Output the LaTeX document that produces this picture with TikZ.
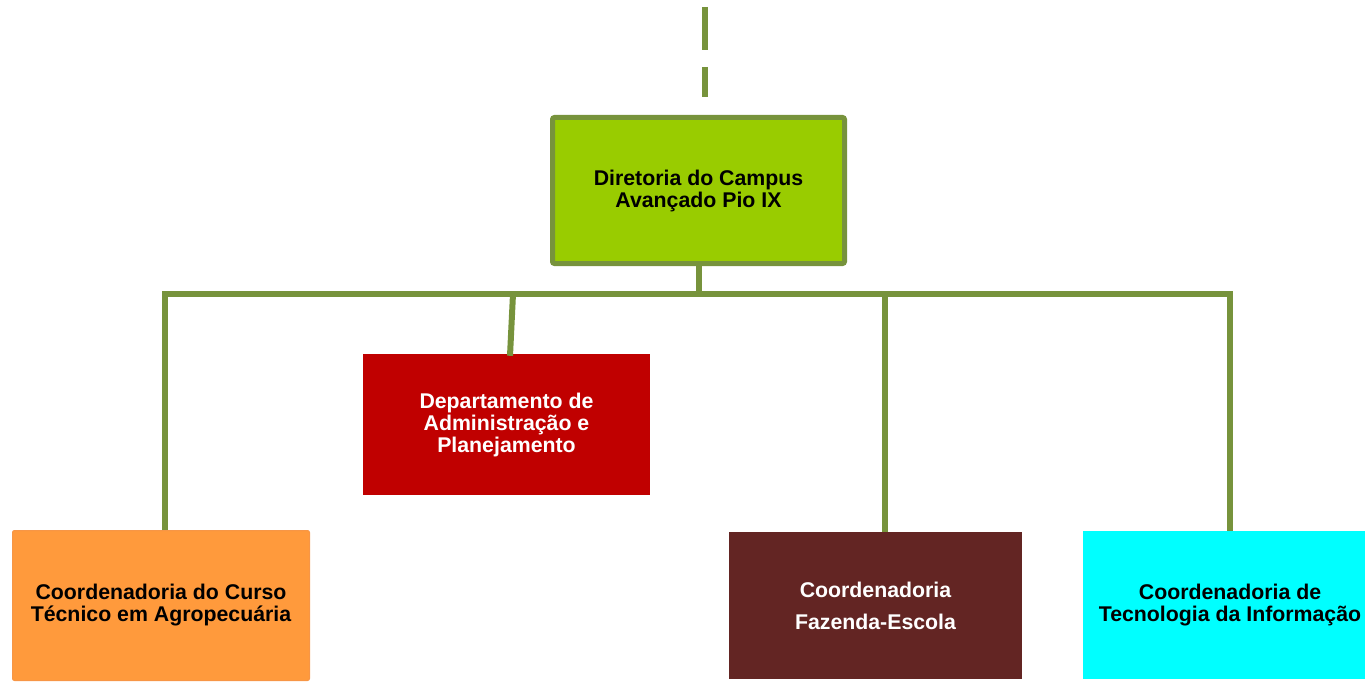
\documentclass[tikz,border=0pt]{standalone}
\usepackage{fontspec}
\setmainfont{Liberation Sans}
\definecolor{linegreen}{HTML}{77933C}
\definecolor{dirfill}{HTML}{99CC00}
\definecolor{orfill}{HTML}{FF9A3C}
\definecolor{ordraw}{HTML}{F79646}
\definecolor{redfill}{HTML}{C00000}
\definecolor{brownfill}{HTML}{632523}
\definecolor{cyanfill}{HTML}{00FFFF}
\tikzset{
  unit/.style={rectangle, inner sep=0pt, align=center, font=\bfseries\fontsize{21.3}{22}\selectfont},
  conn/.style={draw=linegreen, line width=6pt},
}
\begin{document}
\begin{tikzpicture}[x=1pt,y=-1pt]
\useasboundingbox (0,0) rectangle (1365,682);
% nodes
\node[unit, draw=linegreen, line width=5pt, fill=dirfill, rounded corners=2pt,
      minimum width=292pt, minimum height=146pt] (dir) at (698.5,190.5)
  {Diretoria do Campus\\Avançado Pio IX};
\node[unit, fill=orfill, draw=ordraw, line width=1pt, rounded corners=2pt,
      minimum width=297pt, minimum height=150pt] (o) at (161,605.5)
  {Coordenadoria do Curso\\Técnico em Agropecuária};
\node[unit, fill=redfill, text=white, minimum width=287pt, minimum height=141pt] (d) at (506.5,424.5)
  {Departamento de\\Administração e\\Planejamento};
\node[unit, fill=brownfill, text=white, minimum width=293pt, minimum height=147pt,
      font=\bfseries\fontsize{21.3}{32}\selectfont] (f) at (875.5,605.5)
  {Coordenadoria\\Fazenda-Escola};
\node[unit, fill=cyanfill, minimum width=294pt, minimum height=148pt] (t) at (1230,605)
  {Coordenadoria de\\Tecnologia da Informação};
% bus coordinates
\coordinate (up) at (705,7);
\coordinate (bl) at (165,294);
\coordinate (br) at (1230,294);
\coordinate (bd) at (513,294);
\coordinate (bf) at (885,294);
% connectors
\draw[conn, dash pattern=on 43pt off 17pt] (up) -- ++(0,90);
\draw[conn] (dir.south) -- (dir.south |- bl);
\draw[conn] (o.north -| bl) -- (bl) -- (br) -- (t.north -| br);
\draw[conn] (bd) -- ([xshift=3.5pt,yshift=-2pt]d.north);
\draw[conn] (bf) -- (bf |- f.north);
\end{tikzpicture}
\end{document}
